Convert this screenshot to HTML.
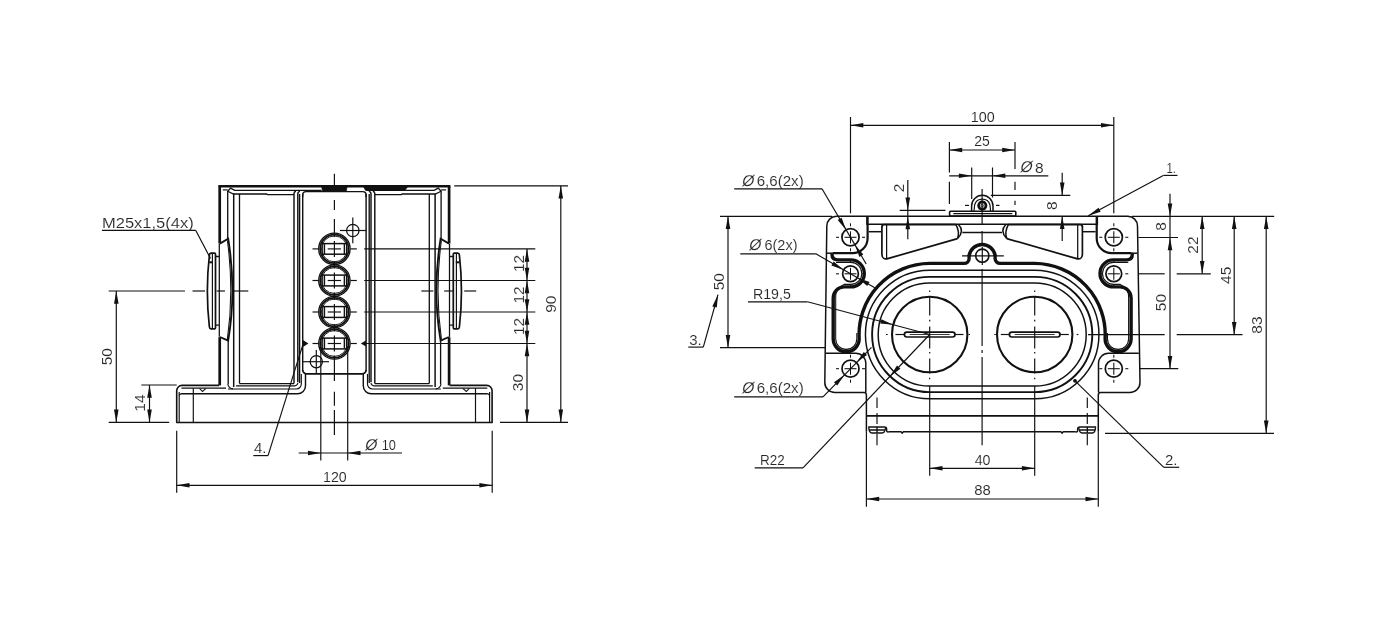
<!DOCTYPE html>
<html><head><meta charset="utf-8"><title>Drawing</title>
<style>
html,body{margin:0;padding:0;background:#fff;}
svg{display:block;will-change:transform;filter:grayscale(1)}
text{font-family:"Liberation Sans",sans-serif;fill:#262626;stroke:#fff;stroke-width:0.12px;}
</style></head><body>
<svg width="1380" height="631" viewBox="0 0 1380 631">
<rect width="1380" height="631" fill="#fff"/>
<line x1="218.4" y1="186.3" x2="450.4" y2="186.3" stroke="#111" stroke-width="2.4"/>
<line x1="219.7" y1="186.3" x2="219.7" y2="243.6" stroke="#111" stroke-width="2.7"/>
<line x1="219.7" y1="337.2" x2="219.7" y2="385.4" stroke="#111" stroke-width="2.7"/>
<line x1="219.3" y1="244.0" x2="219.3" y2="336.8" stroke="#111" stroke-width="1.26"/>
<line x1="227.7" y1="191.0" x2="227.7" y2="239.0" stroke="#111" stroke-width="1.32"/>
<line x1="228.2" y1="340.6" x2="228.2" y2="384.0" stroke="#111" stroke-width="1.32"/>
<line x1="233.7" y1="193.5" x2="233.7" y2="387.0" stroke="#111" stroke-width="1.49"/>
<line x1="239.5" y1="194.0" x2="239.5" y2="383.6" stroke="#111" stroke-width="1.32"/>
<path d="M222.8,189.9 H227.7" fill="none" stroke="#111" stroke-width="1.18" />
<path d="M227.7,191.2 L230.6,188.1 L234.7,190.3 H321.6" fill="none" stroke="#111" stroke-width="1.26" />
<path d="M227.7,191.2 L233.5,194 H266.8 l0.6,0.7 H294.0" fill="none" stroke="#111" stroke-width="1.26" />
<path d="M294.0,383.5 V193.5 Q294.0,191.5 296.0,191.2" fill="none" stroke="#111" stroke-width="1.44" />
<path d="M297.8,382 V194 Q297.8,191.8 300.0,191.4" fill="none" stroke="#111" stroke-width="1.44" />
<line x1="299.6" y1="194.0" x2="299.6" y2="383.0" stroke="#111" stroke-width="1.38"/>
<path d="M302.7,194 V371 " fill="none" stroke="#111" stroke-width="1.44" />
<line x1="239.5" y1="383.6" x2="294.0" y2="383.6" stroke="#111" stroke-width="1.26"/>
<path d="M228.0,389 H296.3 A5 5 0 0 0 301.3,384 V374" fill="none" stroke="#111" stroke-width="1.18" />
<path d="M236.0,385.8 H294.8 A3 3 0 0 0 297.8,382.8" fill="none" stroke="#111" stroke-width="1.18" />
<path d="M181.0,393.8 H297.5 A8 8 0 0 0 305.5,385.8 V373.8" fill="none" stroke="#111" stroke-width="1.44" />
<path d="M219.0,385.4 H182.0 A5.3 5.3 0 0 0 176.7,390.7 V422.4" fill="none" stroke="#111" stroke-width="1.61" />
<path d="M181.5,388.2 H226.0" fill="none" stroke="#111" stroke-width="1.18" />
<path d="M179.2,392 V422.4" fill="none" stroke="#111" stroke-width="1.18" />
<path d="M181.0,393.8 A2 2 0 0 0 179.2,395.8" fill="none" stroke="#111" stroke-width="1.18" />
<line x1="193.3" y1="388.2" x2="193.3" y2="422.4" stroke="#111" stroke-width="1.18"/>
<path d="M199.5,388.4 L202.5,391.5 L206.0,388.4" fill="none" stroke="#111" stroke-width="1.06" />
<path d="M227.8,384 Q228.5,388.5 233.0,388.8" fill="none" stroke="#111" stroke-width="1.18" />
<path d="M211.0,253.2 H214.5 Q215.5,253.2 215.5,254.2 V327.8 Q215.5,328.8 214.5,328.8 H211.0 Q209.6,328.8 209.4,327 Q205.3,291 209.4,255 Q209.6,253.2 211.0,253.2 Z" fill="none" stroke="#111" stroke-width="1.72" />
<line x1="212.4" y1="254.0" x2="212.4" y2="328.0" stroke="#111" stroke-width="1.18"/>
<line x1="209.2" y1="262.3" x2="213.0" y2="262.3" stroke="#111" stroke-width="2.0"/>
<path d="M215.5,256.5 H219.0 M219.0,325.2 H215.5" fill="none" stroke="#111" stroke-width="1.26" />
<path d="M219.8,243.6 L228.2,238.7 Q236.6,291 228.2,340.6 L219.9,337" fill="none" stroke="#111" stroke-width="1.84" />
<path d="M227.4,240.5 Q234.2,291 227.4,339" fill="none" stroke="#111" stroke-width="1.06" />
<line x1="449.1" y1="186.3" x2="449.1" y2="243.6" stroke="#111" stroke-width="2.7"/>
<line x1="449.1" y1="337.2" x2="449.1" y2="385.4" stroke="#111" stroke-width="2.7"/>
<line x1="449.5" y1="244.0" x2="449.5" y2="336.8" stroke="#111" stroke-width="1.26"/>
<line x1="441.1" y1="191.0" x2="441.1" y2="239.0" stroke="#111" stroke-width="1.32"/>
<line x1="440.6" y1="340.6" x2="440.6" y2="384.0" stroke="#111" stroke-width="1.32"/>
<line x1="435.1" y1="193.5" x2="435.1" y2="387.0" stroke="#111" stroke-width="1.49"/>
<line x1="429.3" y1="194.0" x2="429.3" y2="383.6" stroke="#111" stroke-width="1.32"/>
<path d="M446.0,189.9 H441.1" fill="none" stroke="#111" stroke-width="1.18" />
<path d="M441.1,191.2 L438.2,188.1 L434.1,190.3 H366.3" fill="none" stroke="#111" stroke-width="1.26" />
<path d="M441.1,191.2 L435.3,194 H402.0 l-0.6,0.7 H374.8" fill="none" stroke="#111" stroke-width="1.26" />
<path d="M374.8,383.5 V193.5 Q374.8,191.5 372.8,191.2" fill="none" stroke="#111" stroke-width="1.44" />
<path d="M371.0,382 V194 Q371.0,191.8 368.8,191.4" fill="none" stroke="#111" stroke-width="1.44" />
<line x1="369.2" y1="194.0" x2="369.2" y2="383.0" stroke="#111" stroke-width="1.38"/>
<path d="M366.1,194 V371 " fill="none" stroke="#111" stroke-width="1.44" />
<line x1="429.3" y1="383.6" x2="374.8" y2="383.6" stroke="#111" stroke-width="1.26"/>
<path d="M440.8,389 H372.5 A5 5 0 0 1 367.5,384 V374" fill="none" stroke="#111" stroke-width="1.18" />
<path d="M432.8,385.8 H374.0 A3 3 0 0 1 371.0,382.8" fill="none" stroke="#111" stroke-width="1.18" />
<path d="M487.8,393.8 H371.3 A8 8 0 0 1 363.3,385.8 V373.8" fill="none" stroke="#111" stroke-width="1.44" />
<path d="M449.8,385.4 H486.8 A5.3 5.3 0 0 1 492.1,390.7 V422.4" fill="none" stroke="#111" stroke-width="1.61" />
<path d="M487.3,388.2 H442.8" fill="none" stroke="#111" stroke-width="1.18" />
<path d="M489.6,392 V422.4" fill="none" stroke="#111" stroke-width="1.18" />
<path d="M487.8,393.8 A2 2 0 0 1 489.6,395.8" fill="none" stroke="#111" stroke-width="1.18" />
<line x1="475.5" y1="388.2" x2="475.5" y2="422.4" stroke="#111" stroke-width="1.18"/>
<path d="M469.3,388.4 L466.3,391.5 L462.8,388.4" fill="none" stroke="#111" stroke-width="1.06" />
<path d="M441.0,384 Q440.3,388.5 435.8,388.8" fill="none" stroke="#111" stroke-width="1.18" />
<path d="M457.8,253.2 H454.3 Q453.3,253.2 453.3,254.2 V327.8 Q453.3,328.8 454.3,328.8 H457.8 Q459.2,328.8 459.4,327 Q463.5,291 459.4,255 Q459.2,253.2 457.8,253.2 Z" fill="none" stroke="#111" stroke-width="1.72" />
<line x1="456.4" y1="254.0" x2="456.4" y2="328.0" stroke="#111" stroke-width="1.18"/>
<line x1="459.6" y1="262.3" x2="455.8" y2="262.3" stroke="#111" stroke-width="2.0"/>
<path d="M453.3,256.5 H449.8 M449.8,325.2 H453.3" fill="none" stroke="#111" stroke-width="1.26" />
<path d="M449.0,243.6 L440.6,238.7 Q432.2,291 440.6,340.6 L448.9,337" fill="none" stroke="#111" stroke-width="1.84" />
<path d="M441.4,240.5 Q434.6,291 441.4,339" fill="none" stroke="#111" stroke-width="1.06" />
<line x1="176.2" y1="422.4" x2="492.7" y2="422.4" stroke="#111" stroke-width="1.49"/>
<path d="M321.6,186.2 H347.2 L346.4,191 H322.4 Z" fill="#111" stroke="#111" stroke-width="0.59" />
<path d="M363.2,186.2 H408 L405,190.4 H365.5 Z" fill="#111" stroke="#111" stroke-width="0.59" />
<path d="M302.7,197 V194.9 A3.3 3.3 0 0 1 306,191.6 H362.8 A3.3 3.3 0 0 1 366.1,194.9 V197" fill="none" stroke="#111" stroke-width="1.44" />
<path d="M302.7,370 A3.8 3.8 0 0 0 306.5,373.8 H362.3 A3.8 3.8 0 0 0 366.1,370" fill="none" stroke="#111" stroke-width="1.72" />
<circle cx="334.4" cy="248.9" r="15.7" fill="none" stroke="#111" stroke-width="1.32"/>
<circle cx="334.4" cy="248.9" r="14.2" fill="none" stroke="#111" stroke-width="1.8"/>
<circle cx="334.4" cy="248.9" r="12.9" fill="none" stroke="#111" stroke-width="0.94"/>
<line x1="322.2" y1="243.6" x2="346.6" y2="243.6" stroke="#111" stroke-width="1.49"/>
<line x1="322.2" y1="254.2" x2="346.6" y2="254.2" stroke="#111" stroke-width="1.49"/>
<line x1="324.4" y1="243.6" x2="324.4" y2="254.2" stroke="#111" stroke-width="1.49"/>
<line x1="344.4" y1="243.6" x2="344.4" y2="254.2" stroke="#111" stroke-width="1.49"/>
<line x1="322.3" y1="242.1" x2="322.3" y2="255.7" stroke="#111" stroke-width="1.06"/>
<line x1="346.5" y1="242.1" x2="346.5" y2="255.7" stroke="#111" stroke-width="1.06"/>
<line x1="327.7" y1="248.9" x2="341.0" y2="248.9" stroke="#111" stroke-width="1.18"/>
<line x1="312.5" y1="248.9" x2="318.5" y2="248.9" stroke="#111" stroke-width="1.18"/>
<line x1="350.5" y1="248.9" x2="356.8" y2="248.9" stroke="#111" stroke-width="1.18"/>
<line x1="364.2" y1="248.9" x2="535.3" y2="248.9" stroke="#111" stroke-width="1.18"/>
<line x1="334.4" y1="240.9" x2="334.4" y2="256.9" stroke="#111" stroke-width="1.18"/>
<line x1="334.4" y1="233.4" x2="334.4" y2="236.9" stroke="#111" stroke-width="1.18"/>
<line x1="334.4" y1="260.9" x2="334.4" y2="264.4" stroke="#111" stroke-width="1.18"/>
<circle cx="334.4" cy="280.5" r="15.7" fill="none" stroke="#111" stroke-width="1.32"/>
<circle cx="334.4" cy="280.5" r="14.2" fill="none" stroke="#111" stroke-width="1.8"/>
<circle cx="334.4" cy="280.5" r="12.9" fill="none" stroke="#111" stroke-width="0.94"/>
<line x1="322.2" y1="275.1" x2="346.6" y2="275.1" stroke="#111" stroke-width="1.49"/>
<line x1="322.2" y1="285.9" x2="346.6" y2="285.9" stroke="#111" stroke-width="1.49"/>
<line x1="324.4" y1="275.1" x2="324.4" y2="285.9" stroke="#111" stroke-width="1.49"/>
<line x1="344.4" y1="275.1" x2="344.4" y2="285.9" stroke="#111" stroke-width="1.49"/>
<line x1="322.3" y1="273.7" x2="322.3" y2="287.3" stroke="#111" stroke-width="1.06"/>
<line x1="346.5" y1="273.7" x2="346.5" y2="287.3" stroke="#111" stroke-width="1.06"/>
<line x1="327.7" y1="280.5" x2="341.0" y2="280.5" stroke="#111" stroke-width="1.18"/>
<line x1="312.5" y1="280.5" x2="318.5" y2="280.5" stroke="#111" stroke-width="1.18"/>
<line x1="350.5" y1="280.5" x2="356.8" y2="280.5" stroke="#111" stroke-width="1.18"/>
<line x1="364.2" y1="280.5" x2="535.3" y2="280.5" stroke="#111" stroke-width="1.18"/>
<line x1="334.4" y1="272.5" x2="334.4" y2="288.5" stroke="#111" stroke-width="1.18"/>
<line x1="334.4" y1="265.0" x2="334.4" y2="268.5" stroke="#111" stroke-width="1.18"/>
<line x1="334.4" y1="292.5" x2="334.4" y2="296.0" stroke="#111" stroke-width="1.18"/>
<circle cx="334.4" cy="312.0" r="15.7" fill="none" stroke="#111" stroke-width="1.32"/>
<circle cx="334.4" cy="312.0" r="14.2" fill="none" stroke="#111" stroke-width="1.8"/>
<circle cx="334.4" cy="312.0" r="12.9" fill="none" stroke="#111" stroke-width="0.94"/>
<line x1="322.2" y1="306.6" x2="346.6" y2="306.6" stroke="#111" stroke-width="1.49"/>
<line x1="322.2" y1="317.4" x2="346.6" y2="317.4" stroke="#111" stroke-width="1.49"/>
<line x1="324.4" y1="306.6" x2="324.4" y2="317.4" stroke="#111" stroke-width="1.49"/>
<line x1="344.4" y1="306.6" x2="344.4" y2="317.4" stroke="#111" stroke-width="1.49"/>
<line x1="322.3" y1="305.2" x2="322.3" y2="318.8" stroke="#111" stroke-width="1.06"/>
<line x1="346.5" y1="305.2" x2="346.5" y2="318.8" stroke="#111" stroke-width="1.06"/>
<line x1="327.7" y1="312.0" x2="341.0" y2="312.0" stroke="#111" stroke-width="1.18"/>
<line x1="312.5" y1="312.0" x2="318.5" y2="312.0" stroke="#111" stroke-width="1.18"/>
<line x1="350.5" y1="312.0" x2="356.8" y2="312.0" stroke="#111" stroke-width="1.18"/>
<line x1="364.2" y1="312.0" x2="535.3" y2="312.0" stroke="#111" stroke-width="1.18"/>
<line x1="334.4" y1="304.0" x2="334.4" y2="320.0" stroke="#111" stroke-width="1.18"/>
<line x1="334.4" y1="296.5" x2="334.4" y2="300.0" stroke="#111" stroke-width="1.18"/>
<line x1="334.4" y1="324.0" x2="334.4" y2="327.5" stroke="#111" stroke-width="1.18"/>
<circle cx="334.4" cy="343.5" r="15.7" fill="none" stroke="#111" stroke-width="1.32"/>
<circle cx="334.4" cy="343.5" r="14.2" fill="none" stroke="#111" stroke-width="1.8"/>
<circle cx="334.4" cy="343.5" r="12.9" fill="none" stroke="#111" stroke-width="0.94"/>
<line x1="322.2" y1="338.1" x2="346.6" y2="338.1" stroke="#111" stroke-width="1.49"/>
<line x1="322.2" y1="348.9" x2="346.6" y2="348.9" stroke="#111" stroke-width="1.49"/>
<line x1="324.4" y1="338.1" x2="324.4" y2="348.9" stroke="#111" stroke-width="1.49"/>
<line x1="344.4" y1="338.1" x2="344.4" y2="348.9" stroke="#111" stroke-width="1.49"/>
<line x1="322.3" y1="336.7" x2="322.3" y2="350.3" stroke="#111" stroke-width="1.06"/>
<line x1="346.5" y1="336.7" x2="346.5" y2="350.3" stroke="#111" stroke-width="1.06"/>
<line x1="327.7" y1="343.5" x2="341.0" y2="343.5" stroke="#111" stroke-width="1.18"/>
<line x1="312.5" y1="343.5" x2="318.5" y2="343.5" stroke="#111" stroke-width="1.18"/>
<line x1="350.5" y1="343.5" x2="356.8" y2="343.5" stroke="#111" stroke-width="1.18"/>
<line x1="364.2" y1="343.5" x2="535.3" y2="343.5" stroke="#111" stroke-width="1.18"/>
<line x1="334.4" y1="335.5" x2="334.4" y2="351.5" stroke="#111" stroke-width="1.18"/>
<line x1="334.4" y1="328.0" x2="334.4" y2="331.5" stroke="#111" stroke-width="1.18"/>
<line x1="334.4" y1="355.5" x2="334.4" y2="359.0" stroke="#111" stroke-width="1.18"/>
<circle cx="352.8" cy="230.5" r="6.2" fill="none" stroke="#111" stroke-width="1.26"/>
<line x1="340.0" y1="230.5" x2="366.5" y2="230.5" stroke="#111" stroke-width="1.18"/>
<line x1="352.8" y1="217.5" x2="352.8" y2="243.3" stroke="#111" stroke-width="1.18"/>
<circle cx="316.3" cy="361.7" r="6.1" fill="none" stroke="#111" stroke-width="1.26"/>
<line x1="302.7" y1="361.7" x2="329.0" y2="361.7" stroke="#111" stroke-width="1.18"/>
<line x1="316.3" y1="350.0" x2="316.3" y2="373.5" stroke="#111" stroke-width="1.18"/>
<polygon points="302.9,339.9 302.9,346.9 308.4,343.4" fill="#111"/>
<polygon points="366,340.6 366,346.4 360.8,343.5" fill="#111"/>
<line x1="334.4" y1="173.7" x2="334.4" y2="185.0" stroke="#111" stroke-width="1.18"/>
<line x1="334.4" y1="200.0" x2="334.4" y2="210.0" stroke="#111" stroke-width="1.18"/>
<line x1="334.4" y1="219.0" x2="334.4" y2="236.5" stroke="#111" stroke-width="1.18"/>
<line x1="334.4" y1="263.0" x2="334.4" y2="266.0" stroke="#111" stroke-width="1.18"/>
<line x1="334.4" y1="294.5" x2="334.4" y2="297.5" stroke="#111" stroke-width="1.18"/>
<line x1="334.4" y1="326.0" x2="334.4" y2="329.0" stroke="#111" stroke-width="1.18"/>
<line x1="334.4" y1="356.5" x2="334.4" y2="381.0" stroke="#111" stroke-width="1.18"/>
<line x1="334.4" y1="391.7" x2="334.4" y2="405.8" stroke="#111" stroke-width="1.18"/>
<line x1="334.4" y1="410.0" x2="334.4" y2="435.0" stroke="#111" stroke-width="1.18"/>
<line x1="108.7" y1="291.0" x2="185.0" y2="291.0" stroke="#111" stroke-width="1.18"/>
<line x1="192.5" y1="291.0" x2="205.0" y2="291.0" stroke="#111" stroke-width="1.18"/>
<line x1="216.7" y1="291.0" x2="225.0" y2="291.0" stroke="#111" stroke-width="1.18"/>
<line x1="234.0" y1="291.0" x2="248.3" y2="291.0" stroke="#111" stroke-width="1.18"/>
<line x1="421.3" y1="291.0" x2="433.3" y2="291.0" stroke="#111" stroke-width="1.18"/>
<line x1="444.2" y1="291.0" x2="453.3" y2="291.0" stroke="#111" stroke-width="1.18"/>
<line x1="464.2" y1="291.0" x2="476.2" y2="291.0" stroke="#111" stroke-width="1.18"/>
<line x1="116.3" y1="291.0" x2="116.3" y2="422.4" stroke="#111" stroke-width="1.18"/>
<polygon points="116.3,291.0 118.6,303.8 114.0,303.8" fill="#111"/>
<polygon points="116.3,422.4 114.0,409.6 118.6,409.6" fill="#111"/>
<text x="106.7" y="356.7" font-size="15.5" text-anchor="middle" transform="rotate(-90 106.7 356.7) translate(0 5.5)">50</text>
<line x1="108.7" y1="422.4" x2="169.2" y2="422.4" stroke="#111" stroke-width="1.18"/>
<line x1="141.3" y1="385.0" x2="176.7" y2="385.0" stroke="#111" stroke-width="1.18"/>
<line x1="149.5" y1="385.0" x2="149.5" y2="422.4" stroke="#111" stroke-width="1.18"/>
<polygon points="149.5,385.0 151.8,397.8 147.2,397.8" fill="#111"/>
<polygon points="149.5,422.4 147.2,409.6 151.8,409.6" fill="#111"/>
<text x="139.0" y="403.0" font-size="15.5" text-anchor="middle" transform="rotate(-90 139.0 403.0) translate(0 5.5)">14</text>
<line x1="176.7" y1="430.8" x2="176.7" y2="492.8" stroke="#111" stroke-width="1.18"/>
<line x1="492.2" y1="430.8" x2="492.2" y2="492.8" stroke="#111" stroke-width="1.18"/>
<line x1="176.7" y1="485.3" x2="492.2" y2="485.3" stroke="#111" stroke-width="1.18"/>
<polygon points="176.7,485.3 189.5,483.0 189.5,487.6" fill="#111"/>
<polygon points="492.2,485.3 479.4,487.6 479.4,483.0" fill="#111"/>
<text x="334.9" y="482.0" font-size="15.5" text-anchor="middle" textLength="23.7" lengthAdjust="spacingAndGlyphs">120</text>
<line x1="320.8" y1="348.0" x2="320.8" y2="460.5" stroke="#111" stroke-width="1.18"/>
<line x1="347.7" y1="346.0" x2="347.7" y2="460.5" stroke="#111" stroke-width="1.18"/>
<line x1="298.7" y1="453.0" x2="402.0" y2="453.0" stroke="#111" stroke-width="1.18"/>
<polygon points="320.8,453.0 308.0,455.3 308.0,450.7" fill="#111"/>
<polygon points="347.7,453.0 360.5,450.7 360.5,455.3" fill="#111"/>
<text x="364.2" y="449.7" font-size="15.6" transform="translate(364.2 449.7) skewX(-12) translate(-364.2 -449.7)">Ø</text>
<text x="381.7" y="449.7" font-size="15.5" text-anchor="start" textLength="14.2" lengthAdjust="spacingAndGlyphs">10</text>
<text x="254.0" y="453.0" font-size="15.5" text-anchor="start" textLength="12.5" lengthAdjust="spacingAndGlyphs">4.</text>
<line x1="253.3" y1="455.6" x2="268.0" y2="455.6" stroke="#111" stroke-width="1.18"/>
<line x1="268.0" y1="455.6" x2="303.2" y2="343.6" stroke="#111" stroke-width="1.18"/>
<text x="102.0" y="228.0" font-size="15.5" text-anchor="start" textLength="91.7" lengthAdjust="spacingAndGlyphs">M25x1,5(4x)</text>
<line x1="102.0" y1="230.4" x2="195.8" y2="230.4" stroke="#111" stroke-width="1.18"/>
<line x1="195.8" y1="230.4" x2="210.5" y2="258.5" stroke="#111" stroke-width="1.18"/>
<line x1="454.2" y1="185.8" x2="568.0" y2="185.8" stroke="#111" stroke-width="1.18"/>
<line x1="500.0" y1="422.4" x2="568.0" y2="422.4" stroke="#111" stroke-width="1.18"/>
<line x1="560.8" y1="185.8" x2="560.8" y2="422.4" stroke="#111" stroke-width="1.18"/>
<polygon points="560.8,185.8 563.1,198.6 558.5,198.6" fill="#111"/>
<polygon points="560.8,422.4 558.5,409.6 563.1,409.6" fill="#111"/>
<text x="550.8" y="304.2" font-size="15.5" text-anchor="middle" transform="rotate(-90 550.8 304.2) translate(0 5.5)">90</text>
<line x1="527.0" y1="248.9" x2="527.0" y2="422.4" stroke="#111" stroke-width="1.18"/>
<polygon points="527.0,248.9 529.3,261.7 524.7,261.7" fill="#111"/>
<polygon points="527.0,280.5 524.7,267.7 529.3,267.7" fill="#111"/>
<text x="518.3" y="263.4" font-size="15.5" text-anchor="middle" transform="rotate(-90 518.3 263.4) translate(0 5.5)">12</text>
<polygon points="527.0,280.5 529.3,293.3 524.7,293.3" fill="#111"/>
<polygon points="527.0,312.0 524.7,299.2 529.3,299.2" fill="#111"/>
<text x="518.3" y="294.9" font-size="15.5" text-anchor="middle" transform="rotate(-90 518.3 294.9) translate(0 5.5)">12</text>
<polygon points="527.0,312.0 529.3,324.8 524.7,324.8" fill="#111"/>
<polygon points="527.0,343.5 524.7,330.7 529.3,330.7" fill="#111"/>
<text x="518.3" y="326.4" font-size="15.5" text-anchor="middle" transform="rotate(-90 518.3 326.4) translate(0 5.5)">12</text>
<polygon points="527.0,343.5 529.3,356.3 524.7,356.3" fill="#111"/>
<polygon points="527.0,422.4 524.7,409.6 529.3,409.6" fill="#111"/>
<text x="517.5" y="382.5" font-size="15.5" text-anchor="middle" transform="rotate(-90 517.5 382.5) translate(0 5.5)">30</text>
<path d="M836.5,216.3 H1127.8 A9.7 9.7 0 0 1 1137.5,226 L1140,382.5 A10 10 0 0 1 1130,392.5 H1100.3 Q1098.3,392.7 1098.3,395 V431.7 M836.5,216.3 A9.7 9.7 0 0 0 826.8,226 L824.8,382.5 A10 10 0 0 0 834.8,392.5 H864.3 Q866.4,392.7 866.4,395 V431.7" fill="none" stroke="#111" stroke-width="1.49" />
<line x1="868.0" y1="224.2" x2="1096.3" y2="224.2" stroke="#111" stroke-width="1.49"/>
<path d="M929.7,270.2 H1034.7 A64.3 64.3 0 0 1 1034.7,398.8 H929.7 A64.3 64.3 0 0 1 929.7,270.2 Z" fill="none" stroke="#111" stroke-width="1.49" />
<path d="M929.7,276.9 H1034.7 A57.6 57.6 0 0 1 1034.7,392.1 H929.7 A57.6 57.6 0 0 1 929.7,276.9 Z" fill="none" stroke="#111" stroke-width="1.9" />
<path d="M929.7,283.0 H1034.7 A51.5 51.5 0 0 1 1034.7,386.0 H929.7 A51.5 51.5 0 0 1 929.7,283.0 Z" fill="none" stroke="#111" stroke-width="1.49" />
<circle cx="929.7" cy="334.5" r="37.7" fill="none" stroke="#111" stroke-width="2.1"/>
<rect x="904.4" y="332.1" width="50.6" height="4.9" rx="2.45" fill="none" stroke="#111" stroke-width="1.72"/>
<line x1="909.7" y1="334.5" x2="949.7" y2="334.5" stroke="#111" stroke-width="0.83"/>
<circle cx="1034.7" cy="334.5" r="37.7" fill="none" stroke="#111" stroke-width="2.1"/>
<rect x="1009.4" y="332.1" width="50.6" height="4.9" rx="2.45" fill="none" stroke="#111" stroke-width="1.72"/>
<line x1="1014.7" y1="334.5" x2="1054.7" y2="334.5" stroke="#111" stroke-width="0.83"/>
<path d="M832.0,254.5 Q832.0,259.8 838.0,259.9 H850.8 A13.5 13.5 0 0 1 850.8,286.9 H844.2 A11 11 0 0 0 833.2,297.9 V338.8 A13 13 0 0 0 859.2,338.8 A71.1 71.1 0 0 1 929.7,263.4 H964.1 A5 5 0 0 0 969.1,258.4 V255.6" fill="none" stroke="#111" stroke-width="3.4" stroke-linecap="round" stroke-linejoin="round"/>
<path d="M1132.3,254.5 Q1132.3,259.8 1126.3,259.9 H1113.5 A13.5 13.5 0 0 0 1113.5,286.9 H1120.1 A11 11 0 0 1 1131.1,297.9 V338.8 A13 13 0 0 1 1105.1,338.8 A71.1 71.1 0 0 0 1034.6,263.4 H1000.2 A5 5 0 0 1 995.1,258.4 V255.6" fill="none" stroke="#111" stroke-width="3.4" stroke-linecap="round" stroke-linejoin="round"/>
<path d="M969.15,256 V255.6 A13.15 13.15 0 0 1 995.15,255.6 V256" fill="none" stroke="#111" stroke-width="3.4" />
<path d="M836.0,262.4 H850.8 A11 11 0 0 1 850.8,284.4 H844.0 A13.5 13.5 0 0 0 835.7,297.9 V338.8 A10.55 10.55 0 0 0 856.8,338.8 V333" fill="none" stroke="#111" stroke-width="1.06" />
<circle cx="850.5" cy="237.3" r="8.6" fill="none" stroke="#111" stroke-width="1.72"/>
<circle cx="850.5" cy="273.8" r="7.9" fill="none" stroke="#111" stroke-width="1.72"/>
<circle cx="850.5" cy="368.7" r="8.5" fill="none" stroke="#111" stroke-width="1.72"/>
<line x1="844.5" y1="237.3" x2="856.5" y2="237.3" stroke="#111" stroke-width="1.06"/>
<line x1="850.5" y1="231.3" x2="850.5" y2="243.3" stroke="#111" stroke-width="1.06"/>
<line x1="836.0" y1="237.3" x2="839.0" y2="237.3" stroke="#111" stroke-width="1.06"/>
<line x1="862.0" y1="237.3" x2="865.0" y2="237.3" stroke="#111" stroke-width="1.06"/>
<line x1="850.5" y1="223.3" x2="850.5" y2="226.3" stroke="#111" stroke-width="1.06"/>
<line x1="850.5" y1="248.3" x2="850.5" y2="251.3" stroke="#111" stroke-width="1.06"/>
<line x1="844.5" y1="273.8" x2="856.5" y2="273.8" stroke="#111" stroke-width="1.06"/>
<line x1="850.5" y1="267.8" x2="850.5" y2="279.8" stroke="#111" stroke-width="1.06"/>
<line x1="836.0" y1="273.8" x2="839.0" y2="273.8" stroke="#111" stroke-width="1.06"/>
<line x1="862.0" y1="273.8" x2="865.0" y2="273.8" stroke="#111" stroke-width="1.06"/>
<line x1="850.5" y1="259.8" x2="850.5" y2="262.8" stroke="#111" stroke-width="1.06"/>
<line x1="850.5" y1="284.8" x2="850.5" y2="287.8" stroke="#111" stroke-width="1.06"/>
<line x1="844.5" y1="368.7" x2="856.5" y2="368.7" stroke="#111" stroke-width="1.06"/>
<line x1="850.5" y1="362.7" x2="850.5" y2="374.7" stroke="#111" stroke-width="1.06"/>
<line x1="836.0" y1="368.7" x2="839.0" y2="368.7" stroke="#111" stroke-width="1.06"/>
<line x1="862.0" y1="368.7" x2="865.0" y2="368.7" stroke="#111" stroke-width="1.06"/>
<line x1="850.5" y1="354.7" x2="850.5" y2="357.7" stroke="#111" stroke-width="1.06"/>
<line x1="850.5" y1="379.7" x2="850.5" y2="382.7" stroke="#111" stroke-width="1.06"/>
<line x1="866.8" y1="216.3" x2="866.8" y2="225.0" stroke="#111" stroke-width="1.18"/>
<path d="M867.6,216.3 V238.2 A15 15 0 0 1 852.6,253.2 H833.0" fill="none" stroke="#111" stroke-width="2.2" />
<line x1="835.0" y1="253.2" x2="827.0" y2="253.2" stroke="#111" stroke-width="1.49"/>
<path d="M825.5,353.3 H855.8 A10 10 0 0 1 865.8,363.3 V392.5" fill="none" stroke="#111" stroke-width="1.49" />
<line x1="868.7" y1="231.7" x2="881.7" y2="231.7" stroke="#111" stroke-width="1.49"/>
<path d="M884.0,224.6 H956.0 M881.9,226 V254.5 Q882.2,260.3 888.5,258.4 L957.5,238.6" fill="none" stroke="#111" stroke-width="1.7" />
<path d="M886.6,225 V258.6" fill="none" stroke="#111" stroke-width="1.26" />
<path d="M884.0,224.6 Q881.9,224.6 881.9,227" fill="none" stroke="#111" stroke-width="1.61" />
<path d="M956.0,224.6 Q960.0,232 957.5,238.6 M958.5,224.6 Q965.0,231.5 957.5,238.6" fill="none" stroke="#111" stroke-width="1.49" />
<path d="M868.2,427 H884.5 Q886.7,427 886.7,429.5 V431 Q887.0,432.5 889.5,431.7 H901.0 l1.2,1.5 l1.2,-1.5 H982.2" fill="none" stroke="#111" stroke-width="1.38" />
<path d="M868.8,427.3 Q869.0,433 872.0,433 H882.0 Q885.0,433 885.5,428 M869.5,430 H885.0 M877.0,427 V433" fill="none" stroke="#111" stroke-width="1.38" />
<line x1="877.0" y1="397.5" x2="877.0" y2="408.0" stroke="#111" stroke-width="1.18"/>
<line x1="877.0" y1="413.0" x2="877.0" y2="424.0" stroke="#111" stroke-width="1.18"/>
<line x1="877.0" y1="434.0" x2="877.0" y2="445.3" stroke="#111" stroke-width="1.18"/>
<path d="M1128.3,262.4 H1113.5 A11 11 0 0 0 1113.5,284.4 H1120.3 A13.5 13.5 0 0 1 1128.6,297.9 V338.8 A10.55 10.55 0 0 1 1107.5,338.8 V333" fill="none" stroke="#111" stroke-width="1.06" />
<circle cx="1113.8" cy="237.3" r="8.6" fill="none" stroke="#111" stroke-width="1.72"/>
<circle cx="1113.8" cy="273.8" r="7.9" fill="none" stroke="#111" stroke-width="1.72"/>
<circle cx="1113.8" cy="368.7" r="8.5" fill="none" stroke="#111" stroke-width="1.72"/>
<line x1="1119.8" y1="237.3" x2="1107.8" y2="237.3" stroke="#111" stroke-width="1.06"/>
<line x1="1113.8" y1="231.3" x2="1113.8" y2="243.3" stroke="#111" stroke-width="1.06"/>
<line x1="1128.3" y1="237.3" x2="1125.3" y2="237.3" stroke="#111" stroke-width="1.06"/>
<line x1="1102.3" y1="237.3" x2="1099.3" y2="237.3" stroke="#111" stroke-width="1.06"/>
<line x1="1113.8" y1="223.3" x2="1113.8" y2="226.3" stroke="#111" stroke-width="1.06"/>
<line x1="1113.8" y1="248.3" x2="1113.8" y2="251.3" stroke="#111" stroke-width="1.06"/>
<line x1="1119.8" y1="273.8" x2="1107.8" y2="273.8" stroke="#111" stroke-width="1.06"/>
<line x1="1113.8" y1="267.8" x2="1113.8" y2="279.8" stroke="#111" stroke-width="1.06"/>
<line x1="1128.3" y1="273.8" x2="1125.3" y2="273.8" stroke="#111" stroke-width="1.06"/>
<line x1="1102.3" y1="273.8" x2="1099.3" y2="273.8" stroke="#111" stroke-width="1.06"/>
<line x1="1113.8" y1="259.8" x2="1113.8" y2="262.8" stroke="#111" stroke-width="1.06"/>
<line x1="1113.8" y1="284.8" x2="1113.8" y2="287.8" stroke="#111" stroke-width="1.06"/>
<line x1="1119.8" y1="368.7" x2="1107.8" y2="368.7" stroke="#111" stroke-width="1.06"/>
<line x1="1113.8" y1="362.7" x2="1113.8" y2="374.7" stroke="#111" stroke-width="1.06"/>
<line x1="1128.3" y1="368.7" x2="1125.3" y2="368.7" stroke="#111" stroke-width="1.06"/>
<line x1="1102.3" y1="368.7" x2="1099.3" y2="368.7" stroke="#111" stroke-width="1.06"/>
<line x1="1113.8" y1="354.7" x2="1113.8" y2="357.7" stroke="#111" stroke-width="1.06"/>
<line x1="1113.8" y1="379.7" x2="1113.8" y2="382.7" stroke="#111" stroke-width="1.06"/>
<line x1="1097.5" y1="216.3" x2="1097.5" y2="225.0" stroke="#111" stroke-width="1.18"/>
<path d="M1096.7,216.3 V238.2 A15 15 0 0 0 1111.7,253.2 H1131.3" fill="none" stroke="#111" stroke-width="2.2" />
<line x1="1129.3" y1="253.2" x2="1137.3" y2="253.2" stroke="#111" stroke-width="1.49"/>
<path d="M1138.8,353.3 H1108.5 A10 10 0 0 0 1098.5,363.3 V392.5" fill="none" stroke="#111" stroke-width="1.49" />
<line x1="1095.6" y1="231.7" x2="1082.6" y2="231.7" stroke="#111" stroke-width="1.49"/>
<path d="M1080.3,224.6 H1008.3 M1082.4,226 V254.5 Q1082.1,260.3 1075.8,258.4 L1006.8,238.6" fill="none" stroke="#111" stroke-width="1.7" />
<path d="M1077.7,225 V258.6" fill="none" stroke="#111" stroke-width="1.26" />
<path d="M1080.3,224.6 Q1082.4,224.6 1082.4,227" fill="none" stroke="#111" stroke-width="1.61" />
<path d="M1008.3,224.6 Q1004.3,232 1006.8,238.6 M1005.8,224.6 Q999.3,231.5 1006.8,238.6" fill="none" stroke="#111" stroke-width="1.49" />
<path d="M1096.1,427 H1079.8 Q1077.6,427 1077.6,429.5 V431 Q1077.3,432.5 1074.8,431.7 H1063.3 l-1.2,1.5 l-1.2,-1.5 H982.1" fill="none" stroke="#111" stroke-width="1.38" />
<path d="M1095.5,427.3 Q1095.3,433 1092.3,433 H1082.3 Q1079.3,433 1078.8,428 M1094.8,430 H1079.3 M1087.3,427 V433" fill="none" stroke="#111" stroke-width="1.38" />
<line x1="1087.3" y1="397.5" x2="1087.3" y2="408.0" stroke="#111" stroke-width="1.18"/>
<line x1="1087.3" y1="413.0" x2="1087.3" y2="424.0" stroke="#111" stroke-width="1.18"/>
<line x1="1087.3" y1="434.0" x2="1087.3" y2="445.3" stroke="#111" stroke-width="1.18"/>
<line x1="866.4" y1="415.9" x2="1098.3" y2="415.9" stroke="#111" stroke-width="1.72"/>
<line x1="962.3" y1="232.5" x2="1002.0" y2="232.5" stroke="#111" stroke-width="1.72"/>
<circle cx="982.3" cy="255.7" r="6.6" fill="none" stroke="#111" stroke-width="1.61"/>
<line x1="962.0" y1="255.9" x2="1003.8" y2="255.9" stroke="#111" stroke-width="1.18"/>
<line x1="982.3" y1="247.0" x2="982.3" y2="265.0" stroke="#111" stroke-width="1.18"/>
<rect x="949.6" y="211.3" width="66.2" height="4.8" rx="1" fill="none" stroke="#111" stroke-width="1.61"/>
<line x1="953.3" y1="213.7" x2="1012.3" y2="213.7" stroke="#111" stroke-width="1.18"/>
<path d="M971.6,211.3 V206 A10.7 10.7 0 0 1 993,206 V211.3" fill="none" stroke="#111" stroke-width="1.49" />
<path d="M974,211.3 L974.6,205 A8 8 0 0 1 990,205 L990.6,211.3" fill="none" stroke="#111" stroke-width="1.18" />
<circle cx="982.3" cy="205.6" r="3.7" fill="none" stroke="#111" stroke-width="2.7"/>
<circle cx="982.3" cy="205.6" r="1.2" fill="none" stroke="#111" stroke-width="0.83"/>
<line x1="965.0" y1="205.4" x2="969.0" y2="205.4" stroke="#111" stroke-width="1.18"/>
<line x1="996.0" y1="205.4" x2="999.5" y2="205.4" stroke="#111" stroke-width="1.18"/>
<line x1="982.1" y1="189.0" x2="982.1" y2="224.0" stroke="#111" stroke-width="1.18"/>
<line x1="982.1" y1="231.0" x2="982.1" y2="243.5" stroke="#111" stroke-width="1.18"/>
<line x1="982.1" y1="269.0" x2="982.1" y2="346.0" stroke="#111" stroke-width="1.18"/>
<line x1="982.1" y1="350.0" x2="982.1" y2="353.0" stroke="#111" stroke-width="1.18"/>
<line x1="982.1" y1="357.0" x2="982.1" y2="445.3" stroke="#111" stroke-width="1.18"/>
<line x1="929.7" y1="290.5" x2="929.7" y2="292.0" stroke="#111" stroke-width="1.18"/>
<line x1="929.7" y1="297.0" x2="929.7" y2="315.5" stroke="#111" stroke-width="1.18"/>
<line x1="929.7" y1="319.8" x2="929.7" y2="321.5" stroke="#111" stroke-width="1.18"/>
<line x1="929.7" y1="326.5" x2="929.7" y2="348.5" stroke="#111" stroke-width="1.18"/>
<line x1="929.7" y1="352.0" x2="929.7" y2="353.5" stroke="#111" stroke-width="1.18"/>
<line x1="929.7" y1="358.5" x2="929.7" y2="373.5" stroke="#111" stroke-width="1.18"/>
<line x1="929.7" y1="377.8" x2="929.7" y2="379.3" stroke="#111" stroke-width="1.18"/>
<line x1="929.7" y1="386.0" x2="929.7" y2="475.8" stroke="#111" stroke-width="1.18"/>
<line x1="1034.7" y1="290.5" x2="1034.7" y2="292.0" stroke="#111" stroke-width="1.18"/>
<line x1="1034.7" y1="297.0" x2="1034.7" y2="315.5" stroke="#111" stroke-width="1.18"/>
<line x1="1034.7" y1="319.8" x2="1034.7" y2="321.5" stroke="#111" stroke-width="1.18"/>
<line x1="1034.7" y1="326.5" x2="1034.7" y2="348.5" stroke="#111" stroke-width="1.18"/>
<line x1="1034.7" y1="352.0" x2="1034.7" y2="353.5" stroke="#111" stroke-width="1.18"/>
<line x1="1034.7" y1="358.5" x2="1034.7" y2="373.5" stroke="#111" stroke-width="1.18"/>
<line x1="1034.7" y1="377.8" x2="1034.7" y2="379.3" stroke="#111" stroke-width="1.18"/>
<line x1="1034.7" y1="386.0" x2="1034.7" y2="475.8" stroke="#111" stroke-width="1.18"/>
<line x1="886.0" y1="334.5" x2="887.7" y2="334.5" stroke="#111" stroke-width="1.18"/>
<line x1="1078.3" y1="334.5" x2="1076.6" y2="334.5" stroke="#111" stroke-width="1.18"/>
<line x1="895.5" y1="334.5" x2="905.0" y2="334.5" stroke="#111" stroke-width="1.18"/>
<line x1="1068.8" y1="334.5" x2="1059.3" y2="334.5" stroke="#111" stroke-width="1.18"/>
<line x1="954.5" y1="334.5" x2="963.5" y2="334.5" stroke="#111" stroke-width="1.18"/>
<line x1="1009.8" y1="334.5" x2="1000.8" y2="334.5" stroke="#111" stroke-width="1.18"/>
<line x1="968.5" y1="334.5" x2="970.0" y2="334.5" stroke="#111" stroke-width="1.18"/>
<line x1="995.8" y1="334.5" x2="994.3" y2="334.5" stroke="#111" stroke-width="1.18"/>
<line x1="1088.0" y1="334.7" x2="1164.7" y2="334.7" stroke="#111" stroke-width="1.18"/>
<line x1="1176.7" y1="334.7" x2="1242.5" y2="334.7" stroke="#111" stroke-width="1.18"/>
<line x1="850.5" y1="117.0" x2="850.5" y2="213.3" stroke="#111" stroke-width="1.18"/>
<line x1="1113.8" y1="117.0" x2="1113.8" y2="213.3" stroke="#111" stroke-width="1.18"/>
<line x1="850.5" y1="125.3" x2="1113.8" y2="125.3" stroke="#111" stroke-width="1.18"/>
<polygon points="850.5,125.3 863.3,123.0 863.3,127.6" fill="#111"/>
<polygon points="1113.8,125.3 1101.0,127.6 1101.0,123.0" fill="#111"/>
<text x="982.7" y="122.0" font-size="15.5" text-anchor="middle" textLength="23.9" lengthAdjust="spacingAndGlyphs">100</text>
<line x1="949.4" y1="142.0" x2="949.4" y2="172.5" stroke="#111" stroke-width="1.18"/>
<line x1="949.4" y1="181.7" x2="949.4" y2="204.0" stroke="#111" stroke-width="1.18"/>
<line x1="1015.0" y1="142.0" x2="1015.0" y2="169.0" stroke="#111" stroke-width="1.18"/>
<line x1="1015.0" y1="181.7" x2="1015.0" y2="190.0" stroke="#111" stroke-width="1.18"/>
<line x1="1015.0" y1="200.8" x2="1015.0" y2="205.0" stroke="#111" stroke-width="1.18"/>
<line x1="949.4" y1="150.0" x2="1015.0" y2="150.0" stroke="#111" stroke-width="1.18"/>
<polygon points="949.4,150.0 962.2,147.7 962.2,152.3" fill="#111"/>
<polygon points="1015.0,150.0 1002.2,152.3 1002.2,147.7" fill="#111"/>
<text x="982.0" y="146.3" font-size="15.5" text-anchor="middle" textLength="15.6" lengthAdjust="spacingAndGlyphs">25</text>
<line x1="971.7" y1="167.5" x2="971.7" y2="199.0" stroke="#111" stroke-width="1.18"/>
<line x1="992.5" y1="167.5" x2="992.5" y2="197.5" stroke="#111" stroke-width="1.18"/>
<line x1="949.2" y1="175.8" x2="1048.3" y2="175.8" stroke="#111" stroke-width="1.18"/>
<polygon points="971.7,175.8 958.9,178.1 958.9,173.5" fill="#111"/>
<polygon points="992.5,175.8 1005.3,173.5 1005.3,178.1" fill="#111"/>
<text x="1019.5" y="172.5" font-size="15.6" transform="translate(1019.5 172.5) skewX(-12) translate(-1019.5 -172.5)">Ø</text>
<text x="1035.0" y="172.5" font-size="15.5" text-anchor="start">8</text>
<line x1="1062.2" y1="172.8" x2="1062.2" y2="195.3" stroke="#111" stroke-width="1.18"/>
<polygon points="1062.2,195.3 1059.9,182.5 1064.5,182.5" fill="#111"/>
<line x1="990.8" y1="195.3" x2="1070.3" y2="195.3" stroke="#111" stroke-width="1.18"/>
<line x1="1062.2" y1="216.3" x2="1062.2" y2="241.0" stroke="#111" stroke-width="1.18"/>
<polygon points="1062.2,216.3 1064.5,229.1 1059.9,229.1" fill="#111"/>
<text x="1052.0" y="205.8" font-size="15.5" text-anchor="middle" transform="rotate(-90 1052.0 205.8) translate(0 5.5)">8</text>
<line x1="907.8" y1="180.0" x2="907.8" y2="239.2" stroke="#111" stroke-width="1.18"/>
<polygon points="907.8,210.3 905.5,197.5 910.1,197.5" fill="#111"/>
<polygon points="907.8,216.5 910.1,229.3 905.5,229.3" fill="#111"/>
<line x1="899.7" y1="210.3" x2="945.5" y2="210.3" stroke="#111" stroke-width="1.18"/>
<text x="898.7" y="187.8" font-size="15.5" text-anchor="middle" transform="rotate(-90 898.7 187.8) translate(0 5.5)">2</text>
<text x="1166.5" y="173.0" font-size="15.5" text-anchor="start" textLength="9.5" lengthAdjust="spacingAndGlyphs">1.</text>
<line x1="1163.3" y1="175.4" x2="1177.5" y2="175.4" stroke="#111" stroke-width="1.18"/>
<line x1="1163.3" y1="175.4" x2="1088.3" y2="215.8" stroke="#111" stroke-width="1.18"/>
<polygon points="1088.3,215.8 1098.5,207.7 1100.7,211.8" fill="#111"/>
<line x1="1132.0" y1="216.3" x2="1274.2" y2="216.3" stroke="#111" stroke-width="1.18"/>
<line x1="1170.0" y1="193.7" x2="1170.0" y2="368.7" stroke="#111" stroke-width="1.18"/>
<polygon points="1170.0,216.3 1167.7,203.5 1172.3,203.5" fill="#111"/>
<polygon points="1170.0,237.5 1172.3,250.3 1167.7,250.3" fill="#111"/>
<polygon points="1170.0,368.7 1167.7,355.9 1172.3,355.9" fill="#111"/>
<line x1="1138.3" y1="237.5" x2="1178.0" y2="237.5" stroke="#111" stroke-width="1.18"/>
<text x="1160.0" y="226.5" font-size="15.5" text-anchor="middle" transform="rotate(-90 1160.0 226.5) translate(0 5.5)">8</text>
<text x="1160.8" y="302.5" font-size="15.5" text-anchor="middle" transform="rotate(-90 1160.8 302.5) translate(0 5.5)">50</text>
<line x1="1139.0" y1="368.7" x2="1178.3" y2="368.7" stroke="#111" stroke-width="1.18"/>
<line x1="1202.2" y1="216.3" x2="1202.2" y2="273.8" stroke="#111" stroke-width="1.18"/>
<polygon points="1202.2,216.3 1204.5,229.1 1199.9,229.1" fill="#111"/>
<polygon points="1202.2,273.8 1199.9,261.0 1204.5,261.0" fill="#111"/>
<text x="1192.5" y="245.0" font-size="15.5" text-anchor="middle" transform="rotate(-90 1192.5 245.0) translate(0 5.5)">22</text>
<line x1="1138.3" y1="273.8" x2="1164.7" y2="273.8" stroke="#111" stroke-width="1.18"/>
<line x1="1176.7" y1="273.8" x2="1210.8" y2="273.8" stroke="#111" stroke-width="1.18"/>
<line x1="1234.2" y1="216.3" x2="1234.2" y2="334.7" stroke="#111" stroke-width="1.18"/>
<polygon points="1234.2,216.3 1236.5,229.1 1231.9,229.1" fill="#111"/>
<polygon points="1234.2,334.7 1231.9,321.9 1236.5,321.9" fill="#111"/>
<text x="1225.8" y="275.3" font-size="15.5" text-anchor="middle" transform="rotate(-90 1225.8 275.3) translate(0 5.5)">45</text>
<line x1="1266.2" y1="216.3" x2="1266.2" y2="433.3" stroke="#111" stroke-width="1.18"/>
<polygon points="1266.2,216.3 1268.5,229.1 1263.9,229.1" fill="#111"/>
<polygon points="1266.2,433.3 1263.9,420.5 1268.5,420.5" fill="#111"/>
<text x="1256.7" y="325.0" font-size="15.5" text-anchor="middle" transform="rotate(-90 1256.7 325.0) translate(0 5.5)">83</text>
<line x1="1105.0" y1="433.3" x2="1274.0" y2="433.3" stroke="#111" stroke-width="1.18"/>
<line x1="720.0" y1="216.3" x2="832.0" y2="216.3" stroke="#111" stroke-width="1.18"/>
<line x1="728.0" y1="216.3" x2="728.0" y2="347.7" stroke="#111" stroke-width="1.18"/>
<polygon points="728.0,216.3 730.3,229.1 725.7,229.1" fill="#111"/>
<polygon points="728.0,347.7 725.7,334.9 730.3,334.9" fill="#111"/>
<text x="718.7" y="281.7" font-size="15.5" text-anchor="middle" transform="rotate(-90 718.7 281.7) translate(0 5.5)">50</text>
<line x1="720.0" y1="347.7" x2="825.8" y2="347.7" stroke="#111" stroke-width="1.18"/>
<text x="689.2" y="344.7" font-size="15.5" text-anchor="start" textLength="12.5" lengthAdjust="spacingAndGlyphs">3.</text>
<line x1="688.3" y1="347.1" x2="703.3" y2="347.1" stroke="#111" stroke-width="1.18"/>
<line x1="703.3" y1="347.1" x2="718.0" y2="294.7" stroke="#111" stroke-width="1.18"/>
<polygon points="718.0,294.7 716.8,307.6 712.3,306.4" fill="#111"/>
<line x1="929.7" y1="468.3" x2="1034.7" y2="468.3" stroke="#111" stroke-width="1.18"/>
<polygon points="929.7,468.3 942.5,466.0 942.5,470.6" fill="#111"/>
<polygon points="1034.7,468.3 1021.9,470.6 1021.9,466.0" fill="#111"/>
<text x="982.6" y="464.7" font-size="15.5" text-anchor="middle" textLength="15.8" lengthAdjust="spacingAndGlyphs">40</text>
<line x1="866.4" y1="431.7" x2="866.4" y2="506.7" stroke="#111" stroke-width="1.18"/>
<line x1="1098.3" y1="431.7" x2="1098.3" y2="506.7" stroke="#111" stroke-width="1.18"/>
<line x1="866.4" y1="499.0" x2="1098.3" y2="499.0" stroke="#111" stroke-width="1.18"/>
<polygon points="866.4,499.0 879.2,496.7 879.2,501.3" fill="#111"/>
<polygon points="1098.3,499.0 1085.5,501.3 1085.5,496.7" fill="#111"/>
<text x="982.5" y="495.0" font-size="15.5" text-anchor="middle" textLength="16.6" lengthAdjust="spacingAndGlyphs">88</text>
<text x="741.2" y="185.8" font-size="15.6" transform="translate(741.2 185.8) skewX(-12) translate(-741.2 -185.8)">Ø</text>
<text x="756.7" y="185.6" font-size="15.5" text-anchor="start" textLength="47.0" lengthAdjust="spacingAndGlyphs">6,6(2x)</text>
<line x1="734.2" y1="188.8" x2="822.0" y2="188.8" stroke="#111" stroke-width="1.18"/>
<line x1="822.0" y1="188.8" x2="866.2" y2="264.0" stroke="#111" stroke-width="1.18"/>
<polygon points="846.1,229.9 837.7,220.0 841.6,217.7" fill="#111"/>
<polygon points="854.9,244.7 863.3,254.6 859.4,256.9" fill="#111"/>
<text x="748.2" y="250.3" font-size="15.6" transform="translate(748.2 250.3) skewX(-12) translate(-748.2 -250.3)">Ø</text>
<text x="764.5" y="250.3" font-size="15.5" text-anchor="start" textLength="33.0" lengthAdjust="spacingAndGlyphs">6(2x)</text>
<line x1="740.3" y1="253.8" x2="815.8" y2="253.8" stroke="#111" stroke-width="1.18"/>
<line x1="815.8" y1="253.8" x2="874.8" y2="287.8" stroke="#111" stroke-width="1.18"/>
<polygon points="843.7,269.9 831.4,265.5 833.7,261.5" fill="#111"/>
<polygon points="857.3,277.7 869.6,282.1 867.3,286.1" fill="#111"/>
<text x="741.2" y="393.3" font-size="15.6" transform="translate(741.2 393.3) skewX(-12) translate(-741.2 -393.3)">Ø</text>
<text x="756.7" y="393.1" font-size="15.5" text-anchor="start" textLength="47.0" lengthAdjust="spacingAndGlyphs">6,6(2x)</text>
<line x1="734.2" y1="396.8" x2="823.0" y2="396.8" stroke="#111" stroke-width="1.18"/>
<line x1="823.0" y1="396.8" x2="871.5" y2="347.3" stroke="#111" stroke-width="1.18"/>
<polygon points="844.6,374.8 837.2,385.5 834.0,382.3" fill="#111"/>
<polygon points="856.4,362.6 863.8,351.9 867.0,355.1" fill="#111"/>
<text x="753.0" y="298.7" font-size="15.5" text-anchor="start" textLength="37.8" lengthAdjust="spacingAndGlyphs">R19,5</text>
<line x1="748.0" y1="301.8" x2="807.5" y2="301.8" stroke="#111" stroke-width="1.18"/>
<line x1="807.5" y1="301.8" x2="929.7" y2="334.5" stroke="#111" stroke-width="1.18"/>
<polygon points="893.2,324.7 880.2,323.6 881.4,319.2" fill="#111"/>
<text x="760.0" y="464.7" font-size="15.5" text-anchor="start" textLength="24.7" lengthAdjust="spacingAndGlyphs">R22</text>
<line x1="754.7" y1="467.9" x2="803.0" y2="467.9" stroke="#111" stroke-width="1.18"/>
<line x1="803.0" y1="467.9" x2="929.7" y2="334.5" stroke="#111" stroke-width="1.18"/>
<polygon points="889.9,376.4 897.0,365.5 900.4,368.7" fill="#111"/>
<text x="1165.0" y="465.0" font-size="15.5" text-anchor="start" textLength="12.5" lengthAdjust="spacingAndGlyphs">2.</text>
<line x1="1163.8" y1="467.3" x2="1179.2" y2="467.3" stroke="#111" stroke-width="1.18"/>
<line x1="1163.8" y1="467.3" x2="1075.0" y2="380.8" stroke="#111" stroke-width="1.18"/>
<circle cx="1075.0" cy="380.8" r="1.3" fill="#111" stroke="#111" stroke-width="1.18"/>
</svg>
</body></html>
